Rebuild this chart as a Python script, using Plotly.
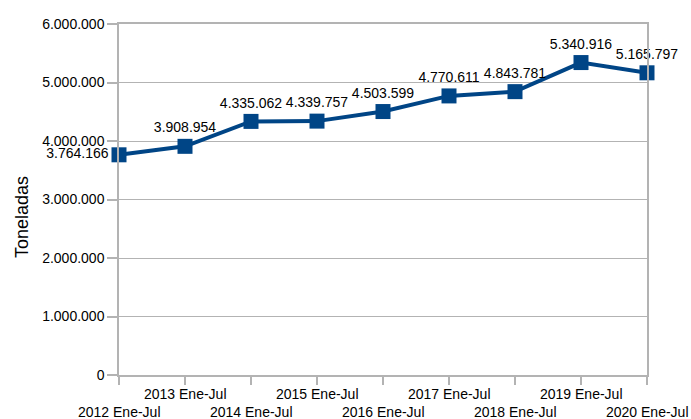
import plotly.graph_objects as go

categories = ["2012 Ene-Jul", "2013 Ene-Jul", "2014 Ene-Jul", "2015 Ene-Jul", "2016 Ene-Jul",
              "2017 Ene-Jul", "2018 Ene-Jul", "2019 Ene-Jul", "2020 Ene-Jul"]
values = [3764166, 3908954, 4335062, 4339757, 4503599, 4770611, 4843781, 5340916, 5165797]
value_labels = ["3.764.166", "3.908.954", "4.335.062", "4.339.757", "4.503.599",
                "4.770.611", "4.843.781", "5.340.916", "5.165.797"]
y_title = "Toneladas"

blue = "#004586"
font = "Liberation Sans, Arial, sans-serif"

positions = ["middle left"] + ["top center"] * (len(categories) - 1)

fig = go.Figure()
fig.add_trace(go.Scatter(
    x=list(range(len(categories))), y=values,
    mode="lines+markers+text",
    line=dict(color=blue, width=4),
    marker=dict(symbol="square", size=15, color=blue),
    text=value_labels, textposition=positions,
    textfont=dict(family=font, size=14, color="#000000"),
    cliponaxis=False, hoverinfo="skip",
))

# staggered category labels
for i, c in enumerate(categories):
    fig.add_annotation(x=i, y=0, xref="x", yref="paper", text=c, showarrow=False,
                       xanchor="center", yanchor="top",
                       yshift=-9 if i % 2 == 1 else -27,
                       font=dict(family=font, size=14, color="#000000"))

# y-axis title
fig.add_annotation(x=0, y=0.45, xref="paper", yref="paper", text=y_title, showarrow=False,
                   textangle=-90, xanchor="center", yanchor="middle", xshift=-97,
                   font=dict(family=font, size=18, color="#000000"))

fig.update_layout(
    width=691, height=419,
    margin=dict(l=119, r=44, t=24, b=44, autoexpand=False),
    paper_bgcolor="white", plot_bgcolor="white",
    separators=",.",
    showlegend=False,
    font=dict(family=font, color="#000000"),
    xaxis=dict(range=[0, len(categories) - 1], tickmode="array",
               tickvals=list(range(len(categories))), showticklabels=False,
               showgrid=False, zeroline=False, showline=True, linecolor="#b3b3b3",
               linewidth=1.5, mirror=True, ticks="outside", ticklen=8,
               tickcolor="#b3b3b3", tickwidth=1.5),
    yaxis=dict(range=[0, 6000000], dtick=1000000, tickformat=",d",
               showgrid=True, gridcolor="#b3b3b3", gridwidth=1, zeroline=False,
               showline=True, linecolor="#b3b3b3", linewidth=1.5, mirror=True,
               ticks="outside", ticklen=10, tickcolor="#b3b3b3", tickwidth=1.5,
               tickfont=dict(family=font, size=14, color="#000000")),
)

fig.write_html("out.html", config={"displayModeBar": False},
               post_script="document.body.style.margin='0';document.body.style.overflow='hidden';")
